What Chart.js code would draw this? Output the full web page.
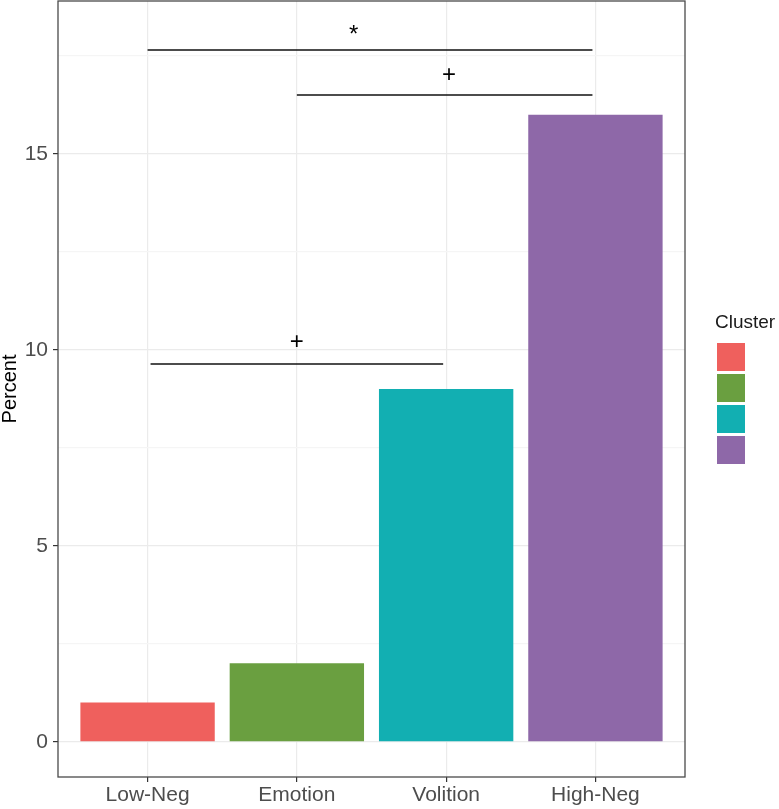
<!DOCTYPE html>
<html>
<head>
<meta charset="utf-8">
<script src="https://cdn.jsdelivr.net/npm/chart.js@4/dist/chart.umd.min.js"></script>
<style>
  html, body { margin: 0; padding: 0; background: #ffffff; }
  #wrap { width: 779px; height: 809px; position: relative; }
</style>
</head>
<body>
<div id="wrap"><canvas id="c" width="779" height="809"></canvas></div>
<script>
// ---- data ----
const categories = ['Low-Neg', 'Emotion', 'Volition', 'High-Neg'];
const percent = [1, 2, 9, 16];
const clusterColors = ['#EF605D', '#6A9F40', '#12AFB2', '#8E68A8'];
const yTicks = [0, 2.5, 5, 7.5, 10, 12.5, 15, 17.5];
const bracketStart = [0, 1, 0.02];
const bracketEnd = [2.98, 2.98, 1.98];
const bracketY = [17.65, 16.5, 9.64];
const sigLabels = ['*', '+', '+'];
const sigLabelX = [1.38, 2.02, 1.0];
const sigLabelY = [18.02, 17.0, 10.19];
const legendTitle = 'Cluster';
const yTitle = 'Percent';

const FONT = '"Liberation Sans", Arial, Helvetica, sans-serif';

const barData = categories.map((c, i) => ({ x: i, y: percent[i] }));
const bracketSets = bracketY.map((y, i) => ({
  type: 'line',
  data: [{ x: bracketStart[i], y: y }, { x: bracketEnd[i], y: y }],
  borderColor: '#111111',
  borderWidth: 1.5,
  pointRadius: 0,
  fill: false,
  order: 0
}));

const extras = {
  id: 'extras',
  afterDatasetsDraw(chart) {
    const ctx = chart.ctx, xs = chart.scales.x, ys = chart.scales.y, a = chart.chartArea;
    ctx.save();
    ctx.fillStyle = '#000000';
    ctx.font = '24px ' + FONT;
    ctx.textAlign = 'center';
    ctx.textBaseline = 'middle';
    sigLabels.forEach((t, i) => {
      ctx.fillText(t, xs.getPixelForValue(sigLabelX[i]), ys.getPixelForValue(sigLabelY[i]));
    });
    // panel border
    ctx.strokeStyle = '#4a4a4a';
    ctx.lineWidth = 1.3;
    ctx.strokeRect(a.left, a.top, a.right - a.left, a.bottom - a.top);
    ctx.restore();
  },
  afterDraw(chart) {
    const ctx = chart.ctx;
    ctx.save();
    ctx.fillStyle = '#1a1a1a';
    ctx.font = '19px ' + FONT;
    ctx.textAlign = 'left';
    ctx.textBaseline = 'alphabetic';
    ctx.fillText(legendTitle, 715, 328);
    const x0 = 717, y0 = 343, w = 28, h = 28, gap = 3;
    clusterColors.forEach((c, i) => {
      ctx.fillStyle = c;
      ctx.fillRect(x0, y0 + i * (h + gap), w, h);
    });
    ctx.restore();
  }
};

new Chart(document.getElementById('c'), {
  type: 'bar',
  data: {
    datasets: [
      {
        type: 'bar',
        data: barData,
        backgroundColor: clusterColors,
        borderWidth: 0,
        barPercentage: 0.9,
        categoryPercentage: 1.0,
        order: 1
      },
      ...bracketSets
    ]
  },
  options: {
    responsive: false,
    animation: false,
    devicePixelRatio: 1,
    layout: { padding: { left: 0, right: 94, top: 1, bottom: 0 } },
    plugins: { legend: { display: false }, tooltip: { enabled: false } },
    scales: {
      x: {
        type: 'linear',
        min: -0.6,
        max: 3.6,
        offset: false,
        afterBuildTicks: s => { s.ticks = categories.map((c, i) => ({ value: i })); },
        afterFit: s => { s.height = 32; s.paddingLeft = 0; s.paddingRight = 0; },
        border: { display: false },
        grid: { offset: false, color: '#ebebeb', lineWidth: 1.2, tickLength: 5, tickColor: '#333333', tickWidth: 1.2 },
        ticks: {
          callback: v => categories[v],
          color: '#4d4d4d',
          font: { family: FONT, size: 21 },
          padding: 1,
          maxRotation: 0,
          autoSkip: false
        }
      },
      y: {
        type: 'linear',
        min: -0.9,
        max: 18.9,
        afterBuildTicks: s => { s.ticks = yTicks.map(v => ({ value: v })); },
        afterFit: s => { s.width = 58; s.paddingTop = 0; s.paddingBottom = 0; },
        border: { display: false },
        grid: {
          offset: false,
          color: ctx => (ctx.tick && ctx.tick.value % 5 === 0) ? '#ebebeb' : '#f5f5f5',
          lineWidth: 1.2,
          tickLength: 5,
          tickColor: ctx => (ctx.tick && ctx.tick.value % 5 === 0) ? '#333333' : 'rgba(0,0,0,0)',
          tickWidth: 1.2
        },
        ticks: {
          callback: v => (v % 5 === 0 ? String(v) : ''),
          color: '#4d4d4d',
          font: { family: FONT, size: 21 },
          padding: 5,
          autoSkip: false
        },
        title: {
          display: true,
          text: yTitle,
          color: '#000000',
          font: { family: FONT, size: 20, lineHeight: 1.0 },
          padding: { top: 0, bottom: 0 }
        }
      }
    }
  },
  plugins: [extras]
});
</script>
</body>
</html>
